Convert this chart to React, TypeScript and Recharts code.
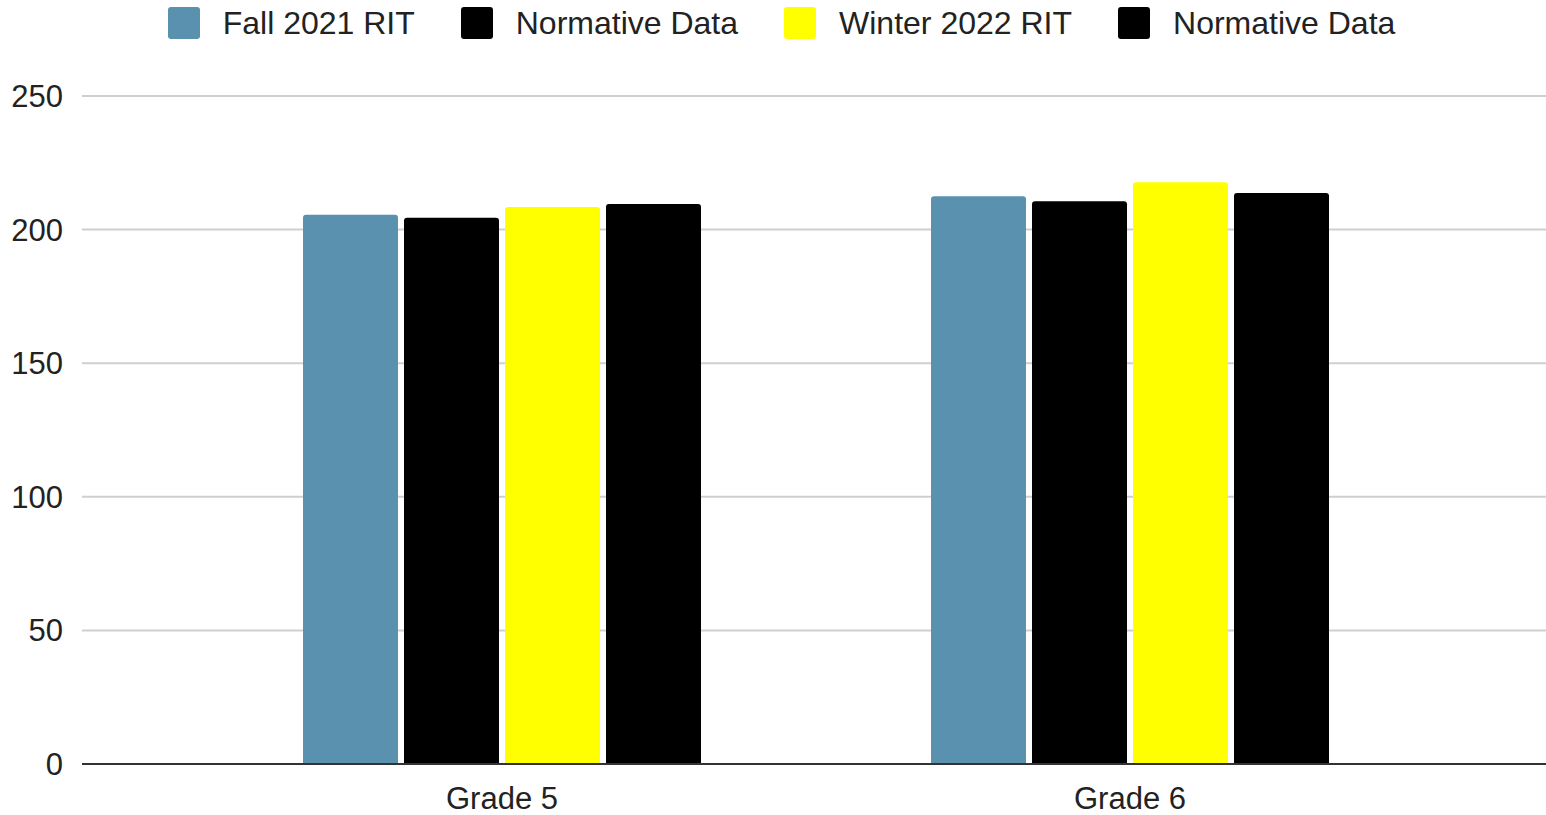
import { BarChart, Bar, CartesianGrid, XAxis, YAxis, Legend } from 'recharts';

const grades = ['Grade 5', 'Grade 6'];
const fall2021 = [205.6, 212.5];
const normFall = [204.4, 210.6];
const winter2022 = [208.5, 217.7];
const normWinter = [209.6, 213.7];
const yTicks = [0, 50, 100, 150, 200, 250];
const seriesOrder = ['fall', 'normFall', 'winter', 'normWinter'];

const chartData = grades.map((grade, i) => ({
  grade,
  fall: fall2021[i],
  normFall: normFall[i],
  winter: winter2022[i],
  normWinter: normWinter[i],
}));

const FONT = '"Liberation Sans", Arial, sans-serif';

const LegendBox = ({ payload }: any) => {
  // recharts sorts legend items by name, put them back in series order
  const items = [...(payload || [])].sort(
    (a: any, b: any) => seriesOrder.indexOf(a.dataKey) - seriesOrder.indexOf(b.dataKey)
  );
  return (
    <div
      style={{
        display: 'flex',
        justifyContent: 'center',
        paddingLeft: 17,
        paddingTop: 7,
        fontFamily: FONT,
        fontSize: 32,
        color: '#222',
      }}
    >
      {items.map((p: any, i: number) => (
        <div key={i} style={{ display: 'flex', alignItems: 'center', marginRight: i < 3 ? 46 : 0 }}>
          <div style={{ width: 32, height: 32, borderRadius: 3, background: p.color, marginRight: 23 }} />
          <span style={{ lineHeight: '32px' }}>{p.value}</span>
        </div>
      ))}
    </div>
  );
};

const App = () => {
  return (
    <div style={{ position: 'absolute', left: 0, top: 0, background: '#fff' }}>
      <BarChart
        width={1546}
        height={815}
        data={chartData}
        margin={{ top: 96, right: 0, left: 0, bottom: 0 }}
        barSize={95}
        barGap={6}
      >
        <CartesianGrid vertical={false} stroke="#cfcfcf" strokeWidth={2} />
        <XAxis
          dataKey="grade"
          height={51}
          padding={{ left: 106, right: 102 }}
          tickLine={false}
          axisLine={{ stroke: '#333', strokeWidth: 2 }}
          tickMargin={17}
          tick={{ fill: '#222', fontSize: 31, fontFamily: FONT }}
        />
        <YAxis
          width={82}
          domain={[0, 250]}
          ticks={yTicks}
          axisLine={false}
          tickLine={false}
          tickMargin={13}
          tick={{ fill: '#222', fontSize: 31, fontFamily: FONT }}
        />
        <Legend
          layout="horizontal"
          verticalAlign="middle"
          wrapperStyle={{ top: 0, left: 0, width: 1546 }}
          content={<LegendBox />}
        />
        <Bar dataKey="fall" name="Fall 2021 RIT" fill="#5a91ae" radius={[3, 3, 0, 0]} isAnimationActive={false} />
        <Bar dataKey="normFall" name="Normative Data" fill="#000000" radius={[3, 3, 0, 0]} isAnimationActive={false} />
        <Bar dataKey="winter" name="Winter 2022 RIT" fill="#ffff00" radius={[3, 3, 0, 0]} isAnimationActive={false} />
        <Bar dataKey="normWinter" name="Normative Data" fill="#000000" radius={[3, 3, 0, 0]} isAnimationActive={false} />
      </BarChart>
    </div>
  );
};

export default App;
